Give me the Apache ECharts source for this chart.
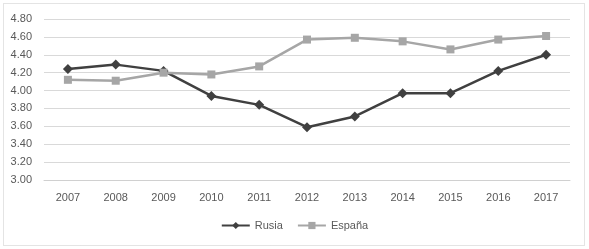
<!DOCTYPE html>
<html><head><meta charset="utf-8">
<script src="https://cdn.jsdelivr.net/npm/echarts@6/dist/echarts.min.js"></script>
<style>html,body{margin:0;padding:0;background:#fff}#c{width:589px;height:249px}</style>
</head><body><div id="c"></div>
<script>
const years = ['2007','2008','2009','2010','2011','2012','2013','2014','2015','2016','2017'];
const rusia = [4.24,4.29,4.22,3.94,3.84,3.59,3.71,3.97,3.97,4.22,4.40];
const espana = [4.12,4.11,4.20,4.18,4.27,4.57,4.59,4.55,4.46,4.57,4.61];
const chart = echarts.init(document.getElementById('c'));
const font = 'Liberation Sans, Arial, sans-serif';
chart.setOption({
  animation:false,
  graphic:[{type:'rect',shape:{x:3.5,y:3.5,width:581,height:242},style:{fill:'none',stroke:'#c8c8c8',lineWidth:1,lineDash:[1,1]}}],
  grid:{left:44,right:19,top:19,bottom:69},
  legend:{bottom:13,left:'center',itemWidth:28,itemHeight:9,itemGap:14,
    textStyle:{color:'#595959',fontSize:11,fontFamily:font},
    data:['Rusia','España']},
  xAxis:{type:'category',data:years,boundaryGap:true,
    axisLine:{lineStyle:{color:'#d0d0d0'}},axisTick:{show:false},
    axisLabel:{color:'#595959',fontSize:11,fontFamily:font,margin:12}},
  yAxis:{type:'value',min:3,max:4.8,interval:0.2,
    axisLine:{show:false},axisTick:{show:false},
    splitLine:{lineStyle:{color:'#d9d9d9',width:1}},
    axisLabel:{color:'#595959',fontSize:11,fontFamily:font,margin:12,formatter:v=>v.toFixed(2)}},
  series:[
    {name:'Rusia',type:'line',data:rusia,symbol:'diamond',symbolSize:10,
     lineStyle:{color:'#404040',width:2.5},itemStyle:{color:'#404040'}},
    {name:'España',type:'line',data:espana,symbol:'rect',symbolSize:8,
     lineStyle:{color:'#a6a6a6',width:2.5},itemStyle:{color:'#a6a6a6'}}
  ]
});
</script></body></html>
